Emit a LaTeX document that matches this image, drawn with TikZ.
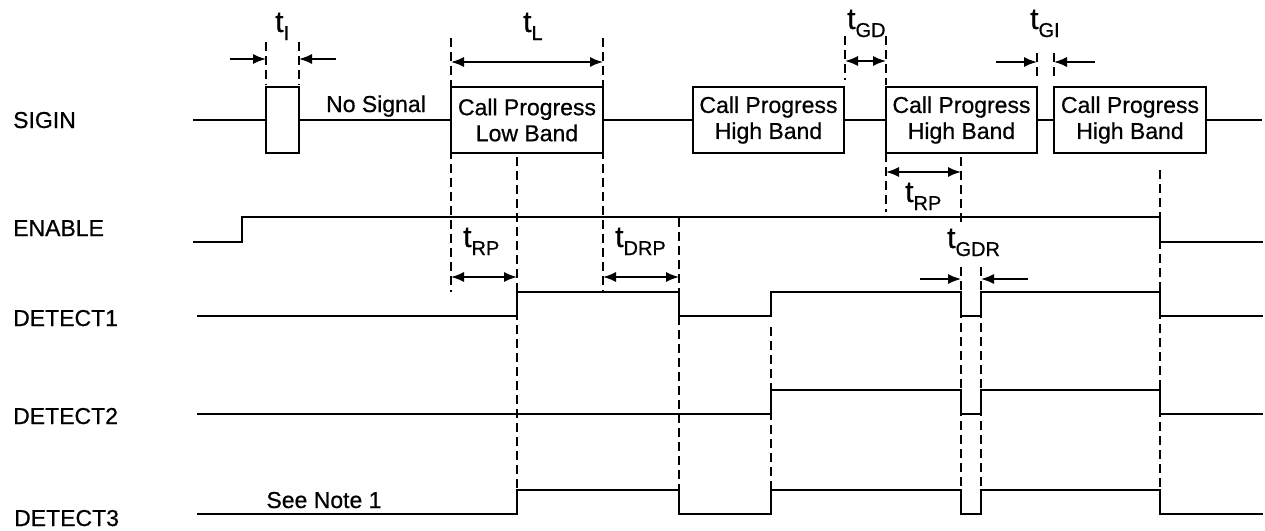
\documentclass[tikz,border=0pt]{standalone}
\usepackage{fontspec}
\setmainfont{Liberation Sans}[FakeBold=0.6]
\usetikzlibrary{arrows.meta}
\tikzset{sigbox/.style={draw=black,line width=1.4pt,minimum height=66pt,inner sep=0pt,
   align=center,font=\fontsize{23}{26}\selectfont},
 wave/.style={line width=1.4pt},
 guide/.style={line width=2pt,dash pattern=on 9pt off 5pt},
 dimto/.style={line width=1.5pt,-{Latex[length=13pt,width=10pt]}},
 dimboth/.style={line width=1.5pt,{Latex[length=13pt,width=10pt]}-{Latex[length=13pt,width=10pt]}},
 lbl/.style={font=\fontsize{23}{23}\selectfont,inner sep=0pt,anchor=base west},
 tlbl/.style={inner sep=0pt,anchor=base west},
 }
\newcommand{\tsub}[1]{{\fontsize{30}{30}\selectfont t}\raisebox{-8pt}{\fontsize{20}{20}\selectfont #1}}

\begin{document}
\begin{tikzpicture}[x=1pt,y=-1pt]
        \useasboundingbox (0,0) rectangle (1265,530);
        % signal names
        \node[lbl] (nsigin) at (13,128) {SIGIN};
        \node[lbl] (nenable) at (13,236) {ENABLE};
        \node[lbl] (ndet1) at (13,326) {DETECT1};
        \node[lbl] (ndet2) at (13,424) {DETECT2};
        \node[lbl] (ndet3) at (14,526) {DETECT3};
        % SIGIN
        \coordinate (sigstart) at (193,120);
        \coordinate (sigend) at (1262,120);
        \node[sigbox,minimum width=33pt] (pulse) at (282.5,120) {};
        \node[sigbox,minimum width=152pt] (low) at (527,120) {Call Progress\\Low Band};
        \node[sigbox,minimum width=151pt] (highA) at (768.5,120) {Call Progress\\High Band};
        \node[sigbox,minimum width=151pt] (highB) at (961.5,120) {Call Progress\\High Band};
        \node[sigbox,minimum width=152pt] (highC) at (1130,120) {Call Progress\\High Band};
        \draw[wave] (sigstart) -- (pulse.west);
        \draw[wave] (pulse.east) -- (low.west);
        \draw[wave] (low.east) -- (highA.west);
        \draw[wave] (highA.east) -- (highB.west);
        \draw[wave] (highB.east) -- (highC.west);
        \draw[wave] (highC.east) -- (sigend);
        \node[lbl,anchor=base] (nosig) at (376,112) {No Signal};
        % ENABLE and DETECT lines
        \draw[wave] (193,242) -- (242,242) -- (242,217) -- (1160,217) -- (1160,242) -- (1263,242);
        \draw[wave] (197,316) -- (517,316) -- (517,292) -- (679,292) -- (679,316) -- (771,316)
            -- (771,292) -- (961,292) -- (961,316) -- (981,316) -- (981,292) -- (1160,292)
            -- (1160,316) -- (1263,316);
        \draw[wave] (197,414) -- (771,414) -- (771,390) -- (961,390) -- (961,414) -- (981,414)
            -- (981,390) -- (1160,390) -- (1160,414) -- (1263,414);
        \draw[wave] (197,514) -- (517,514) -- (517,490) -- (679,490) -- (679,514) -- (771,514)
            -- (771,490) -- (961,490) -- (961,514) -- (981,514) -- (981,490) -- (1160,490)
            -- (1160,514) -- (1263,514);
        \node[lbl,anchor=base] (note) at (324,508) {See Note 1};
        % dashed guides
        \draw[guide] (266,42) -- (266,85);
        \draw[guide] (299,42) -- (299,85);
        \draw[guide] (451,38) -- (451,292);
        \draw[guide] (603,38) -- (603,292);
        \draw[guide] (517,157) -- (517,490);
        \draw[guide] (845,36) -- (845,80);
        \draw[guide] (886,36) -- (886,85);
        \draw[guide] (886,153) -- (886,212);
        \draw[guide] (1037,53) -- (1037,80);
        \draw[guide] (1054,53) -- (1054,80);
        \draw[guide] (961,157) -- (961,222);
        \draw[guide] (961,267) -- (961,495);
        \draw[guide] (679,218) -- (679,490);
        \draw[guide] (771,327) -- (771,490);
        \draw[guide] (981,267) -- (981,490);
        \draw[guide] (1160,170) -- (1160,490);
        % timing arrows
        \draw[dimto] (230,59) -- (266,59);
        \draw[dimto] (336,59) -- (299,59);
        \draw[dimboth] (451,62) -- (603,62);
        \draw[dimboth] (845,61) -- (886,61);
        \draw[dimto] (996,62) -- (1037,62);
        \draw[dimto] (1095,62) -- (1054,62);
        \draw[dimboth] (886,172) -- (961,172);
        \draw[dimboth] (451,277) -- (517,277);
        \draw[dimboth] (603,277) -- (679,277);
        \draw[dimto] (920,279) -- (961,279);
        \draw[dimto] (1028,279) -- (981,279);
        % timing labels
        \node[tlbl] (tI) at (275,32) {\tsub{I}};
        \node[tlbl] (tL) at (523,32) {\tsub{L}};
        \node[tlbl] (tGD) at (847,29) {\tsub{GD}};
        \node[tlbl] (tGI) at (1030,29) {\tsub{GI}};
        \node[tlbl] (tRPb) at (905,202) {\tsub{RP}};
        \node[tlbl] (tRPa) at (463,247) {\tsub{RP}};
        \node[tlbl] (tDRP) at (615,247) {\tsub{DRP}};
        \node[tlbl] (tGDR) at (947,248) {\tsub{GDR}};
    \end{tikzpicture}
\end{document}
